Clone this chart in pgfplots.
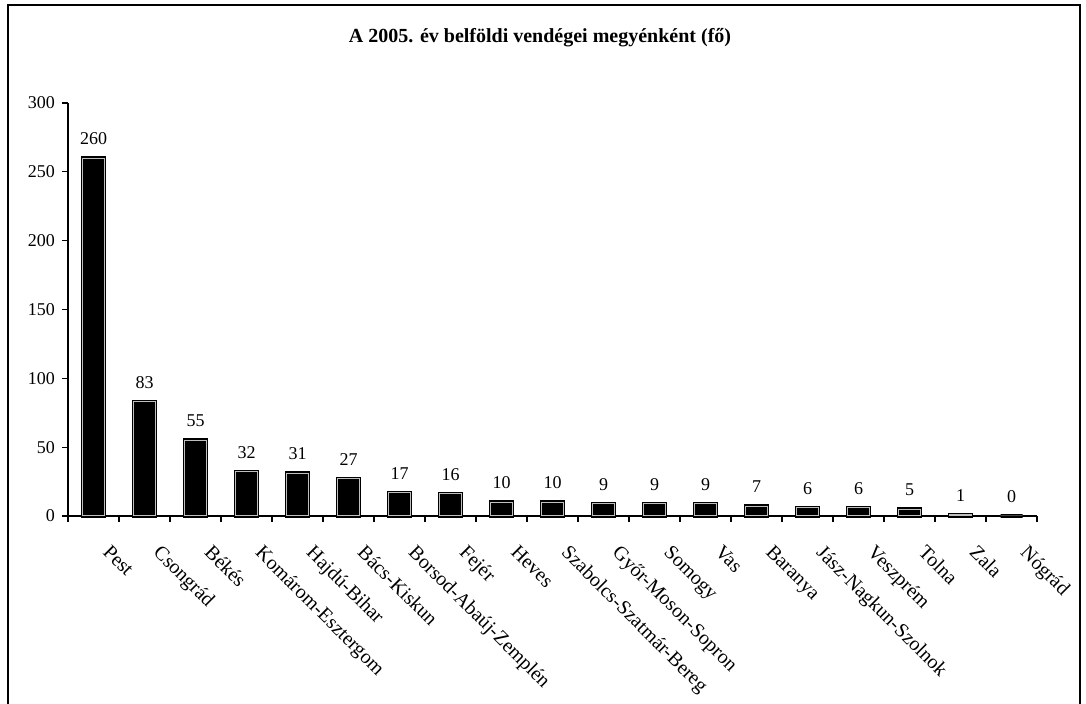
\documentclass[border=0pt]{standalone}
\usepackage{fontspec}
\setmainfont{Liberation Serif}
\usepackage{pgfplots}
\pgfplotsset{compat=1.18}
\begin{document}
\begin{tikzpicture}
\useasboundingbox (0pt,0pt) rectangle (543pt,352pt);
% frame (bottom edge lies outside the page in the reference)
\draw[line width=0.8pt] (4pt,-1pt) -- (4pt,349.5pt) -- (540pt,349.5pt) -- (540pt,-1pt);
\node[font=\bfseries\fontsize{10}{12}\selectfont] at (270pt,333pt) {A 2005. év belföldi vendégei megyénként (fő)};
\begin{axis}[
  at={(34pt,94pt)}, anchor=south west,
  scale only axis, width=484.5pt, height=206.5pt,
  xmin=-0.5, xmax=18.5, ymin=0, ymax=300,
  axis lines=left, axis line style={-, line width=0.8pt},
  xtick={0,...,18},
  xticklabels={Pest,Csongrád,Békés,Komárom-Esztergom,Hajdú-Bihar,Bács-Kiskun,Borsod-Abaúj-Zemplén,Fejér,Heves,Szabolcs-Szatmár-Bereg,Győr-Moson-Sopron,Somogy,Vas,Baranya,Jász-Nagkun-Szolnok,Veszprém,Tolna,Zala,Nógrád},
  major x tick style={draw=none},
  minor xtick={-0.5,0.5,...,18.5},
  ytick={0,50,...,300},
  tick align=outside, tick style={black, line width=0.6pt},
  major tick length=3pt, minor tick length=3pt,
  xticklabel style={anchor=north west, font=\fontsize{10}{12}\selectfont, xshift=9pt, yshift=-6pt, rotate=-45},
  yticklabel style={font=\fontsize{9}{11}\selectfont},
  /pgf/number format/assume math mode=true,
  ybar, bar width=11pt,
  nodes near coords,
  every node near coord/.append style={font=\fontsize{9}{11}\selectfont, yshift=3pt},
  clip=false,
]
\addplot[fill=black, draw=black, double=white!75!black, double distance=0.5pt, line width=0.7pt] coordinates {
(0,260) (1,83) (2,55) (3,32) (4,31) (5,27) (6,17) (7,16) (8,10) (9,10)
(10,9) (11,9) (12,9) (13,7) (14,6) (15,6) (16,5) (17,1) (18,0)};
\end{axis}
\end{tikzpicture}
\end{document}
